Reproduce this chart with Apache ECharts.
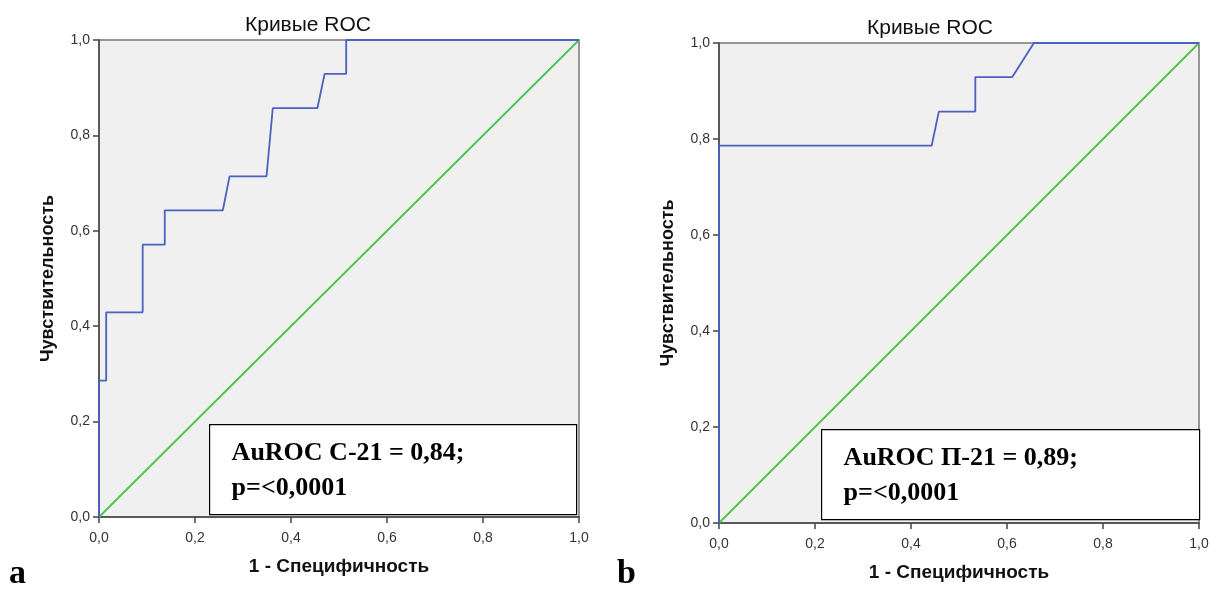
<!DOCTYPE html>
<html>
<head>
<meta charset="utf-8">
<script src="https://cdn.jsdelivr.net/npm/echarts@6/dist/echarts.min.js"></script>
<style>
html,body{margin:0;padding:0;background:#fff;}
#c{width:1223px;height:590px;}
</style>
</head>
<body>
<div id="c"></div>
<script>
// ---- data ----
const titleText = 'Кривые ROC';
const yName = 'Чувствительность';
const xName = '1 - Специфичность';
const panelLabels = ['a', 'b'];
const annotA = ['AuROC С-21 = 0,84;', 'p=<0,0001'];
const annotB = ['AuROC П-21 = 0,89;', 'p=<0,0001'];

const rocA_x = [0, 0, 0.015, 0.015, 0.091, 0.091, 0.137, 0.137, 0.258, 0.272, 0.349, 0.362, 0.455, 0.470, 0.515, 0.515, 1];
const rocA_y = [0, 0.286, 0.286, 0.429, 0.429, 0.571, 0.571, 0.643, 0.643, 0.714, 0.714, 0.857, 0.857, 0.929, 0.929, 1, 1];

const rocB_x = [0, 0, 0.443, 0.458, 0.534, 0.534, 0.611, 0.656, 1];
const rocB_y = [0, 0.786, 0.786, 0.857, 0.857, 0.929, 0.929, 1, 1];

const diag_x = [0, 1];
const diag_y = [0, 1];

const tickInterval = 0.2;

// ---- helpers ----
const pairs = (xs, ys) => xs.map((x, i) => [x, ys[i]]);
const fmt = v => v.toFixed(1).replace('.', ',');
const axisColor = '#444';
const sans = '"Liberation Sans", Arial, sans-serif';
const serif = '"Liberation Serif", "Times New Roman", serif';

function mkX(gi) {
  return {
    gridIndex: gi, type: 'value', min: 0, max: 1, interval: tickInterval,
    name: xName, nameLocation: 'middle', nameGap: 40,
    nameTextStyle: {fontFamily: sans, fontWeight: 'bold', fontSize: 19, color: '#111'},
    axisLine: {show: true, onZero: false, lineStyle: {color: axisColor, width: 1.5}},
    axisTick: {show: true, length: 6, lineStyle: {color: axisColor, width: 1.5}},
    axisLabel: {formatter: fmt, fontFamily: sans, fontSize: 14, color: '#333', margin: 14},
    splitLine: {show: false}
  };
}
function mkY(gi) {
  return {
    gridIndex: gi, type: 'value', min: 0, max: 1, interval: tickInterval,
    name: yName, nameLocation: 'middle', nameGap: 42, nameRotate: 90,
    nameTextStyle: {fontFamily: sans, fontWeight: 'bold', fontSize: 18, color: '#111'},
    axisLine: {show: true, onZero: false, lineStyle: {color: axisColor, width: 1.5}},
    axisTick: {show: true, length: 6, lineStyle: {color: axisColor, width: 1.5}},
    axisLabel: {formatter: fmt, fontFamily: sans, fontSize: 14, color: '#333', margin: 9},
    splitLine: {show: false}
  };
}
function mkLine(gi, data, color) {
  return {
    type: 'line', xAxisIndex: gi, yAxisIndex: gi, data: data,
    showSymbol: false, symbol: 'none', silent: true, animation: false,
    lineStyle: {color: color, width: 1.8}
  };
}
function annot(left, top, w, h, lines) {
  return {
    type: 'group', left: left, top: top,
    children: [
      {type: 'rect', shape: {x: 0, y: 0, width: w, height: h},
       style: {fill: '#fff', stroke: '#000', lineWidth: 1.2}},
      {type: 'text', left: 22, top: 11,
       style: {text: lines.join('\n'), font: 'bold 26px ' + serif, fill: '#000', lineHeight: 35}}
    ]
  };
}

const chart = echarts.init(document.getElementById('c'), null, {renderer: 'canvas'});
chart.setOption({
  animation: false,
  backgroundColor: '#fff',
  title: [
    {text: titleText, left: 303, top: 10, textAlign: 'center',
     textStyle: {fontFamily: sans, fontSize: 21, fontWeight: 'normal', color: '#111'}},
    {text: titleText, left: 925, top: 13, textAlign: 'center',
     textStyle: {fontFamily: sans, fontSize: 21, fontWeight: 'normal', color: '#111'}}
  ],
  grid: [
    {left: 99, top: 40, width: 480, height: 477, show: true, backgroundColor: '#f0f0f0', borderColor: '#777', borderWidth: 1.5},
    {left: 719, top: 43, width: 480, height: 480, show: true, backgroundColor: '#f0f0f0', borderColor: '#777', borderWidth: 1.5}
  ],
  xAxis: [mkX(0), mkX(1)],
  yAxis: [mkY(0), mkY(1)],
  series: [
    mkLine(0, pairs(diag_x, diag_y), '#4cc44c'),
    mkLine(0, pairs(rocA_x, rocA_y), '#4a62c0'),
    mkLine(1, pairs(diag_x, diag_y), '#4cc44c'),
    mkLine(1, pairs(rocB_x, rocB_y), '#4a62c0')
  ],
  graphic: [
    annot(209, 424, 367, 90, annotA),
    annot(821, 429, 378, 90, annotB),
    {type: 'text', left: 9, top: 557, style: {text: panelLabels[0], font: 'bold 34px ' + serif, fill: '#000'}},
    {type: 'text', left: 617, top: 557, style: {text: panelLabels[1], font: 'bold 34px ' + serif, fill: '#000'}}
  ]
});
</script>
</body>
</html>
